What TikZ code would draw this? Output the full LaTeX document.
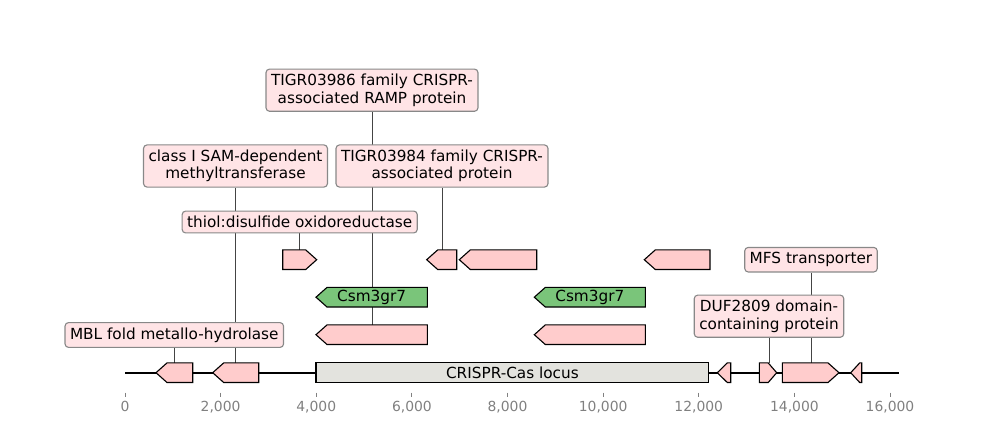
\documentclass[tikz,border=0pt]{standalone}
\usepackage{fontspec}
\setmainfont{DejaVu Sans}
\usetikzlibrary{positioning}
\pgfdeclarelayer{bg}
\pgfsetlayers{bg,main}
\definecolor{genepink}{HTML}{FFCCCC}
\definecolor{labelpink}{HTML}{FFE4E6}
\definecolor{csmgreen}{HTML}{7AC57A}
\definecolor{locusgray}{HTML}{E3E3DE}
\definecolor{tickgray}{HTML}{808080}
\definecolor{boxedge}{HTML}{888888}
\definecolor{pointer}{HTML}{444444}

% gene arrows: x1, x2, y centre, head length, fill
\newcommand{\genefwd}[5]{\draw[gene,fill=#5] (#1,#3-9.8) -- (#2-#4,#3-9.8) -- (#2,#3) -- (#2-#4,#3+9.8) -- (#1,#3+9.8) -- cycle;}
\newcommand{\generev}[5]{\draw[gene,fill=#5] (#2,#3-9.8) -- (#1+#4,#3-9.8) -- (#1,#3) -- (#1+#4,#3+9.8) -- (#2,#3+9.8) -- cycle;}

\begin{document}
\begin{tikzpicture}[x=0.72pt,y=-0.72pt,
  gene/.style={draw=black,line width=0.8pt,line join=miter},
  labelbox/.style={draw=boxedge,fill=labelpink,rounded corners=2.5pt,line width=0.8pt,
    align=center,inner xsep=3.6pt,inner ysep=3.6pt,font=\fontsize{11}{12.5}\selectfont},
  genetext/.style={font=\fontsize{11}{12.5}\selectfont,inner sep=0pt},
  ticklabel/.style={text=tickgray,font=\fontsize{10}{12}\selectfont,inner sep=0pt}]
  \useasboundingbox (0,0) rectangle (1000,440);

  % labels
  \node[labelbox] (lblT86) at (372,90.2) {TIGR03986 family CRISPR-\\associated RAMP protein};
  \node[labelbox] (lblSAM) at (235.5,166) {class I SAM-dependent\\methyltransferase};
  \node[labelbox] (lblT84) at (442,166) {TIGR03984 family CRISPR-\\associated protein};
  \node[labelbox] (lblThiol) at (299.7,222) {thiol:disulfide oxidoreductase};
  \node[labelbox] (lblMBL) at (174.3,335) {MBL fold metallo-hydrolase};
  \node[labelbox] (lblMFS) at (811,259.7) {MFS transporter};
  \node[labelbox] (lblDUF) at (769,316.2) {DUF2809 domain-\\containing protein};

  % pointer ends on the genes
  \coordinate (gMBL) at (174.3,362.9);
  \coordinate (gSAM) at (235.5,362.9);
  \coordinate (gThiol) at (299.7,249.9);
  \coordinate (gT84) at (442,249.9);
  \coordinate (gT86) at (372,324.9);
  \coordinate (gDUF) at (769,362.9);
  \coordinate (gMFS) at (811,362.9);

  \begin{pgfonlayer}{bg}
    \foreach \l in {MBL,SAM,Thiol,T84,T86,DUF,MFS}
      \draw[pointer,line width=0.7pt] (lbl\l) -- (g\l);
  \end{pgfonlayer}

  % axis
  \coordinate (axL) at (125,372.7);
  \coordinate (axR) at (899.3,372.7);
  \draw[line width=1.5pt] (axL) -- (axR);
  \foreach \k/\t in {0/0,1/{2,000},2/{4,000},3/{6,000},4/{8,000},5/{10,000},6/{12,000},7/{14,000},8/{16,000}} {
    \draw[tickgray,line width=0.6pt] (125+\k*95.625,392.7) -- (125+\k*95.625,396.7);
    \node[ticklabel] (tk\k) at (125+\k*95.625,406.7) {\t};
  }

  % genes on the axis
  \generev{156}{192.7}{372.7}{11}{genepink}
  \generev{212.7}{258.7}{372.7}{11}{genepink}
  \draw[gene,fill=locusgray] (316,362.9) rectangle (708.7,382.5);
  \node[genetext] (locus) at (512.4,372.7) {CRISPR-Cas locus};
  \generev{717.3}{730.7}{372.7}{10}{genepink}
  \genefwd{759.3}{776.7}{372.7}{8.5}{genepink}
  \genefwd{782.3}{839}{372.7}{11}{genepink}
  \generev{850.7}{861.7}{372.7}{9}{genepink}

  % first row
  \genefwd{282.7}{316.7}{259.7}{11}{genepink}
  \generev{426.7}{456.7}{259.7}{11}{genepink}
  \generev{459.3}{536.7}{259.7}{11}{genepink}
  \generev{644.3}{710}{259.7}{11}{genepink}

  % second row
  \generev{316}{427.3}{297.2}{11}{csmgreen}
  \node[genetext] (csmA) at (371.7,297.2) {Csm3gr7};
  \generev{534.3}{645.3}{297.2}{11}{csmgreen}
  \node[genetext] (csmB) at (589.8,297.2) {Csm3gr7};

  % third row
  \generev{316}{427.3}{334.7}{11}{genepink}
  \generev{534.3}{645.3}{334.7}{11}{genepink}
\end{tikzpicture}
\end{document}
